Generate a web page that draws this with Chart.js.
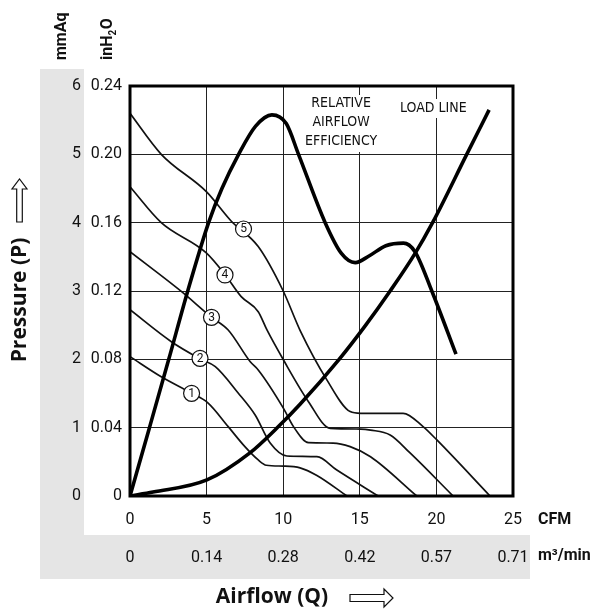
<!DOCTYPE html>
<html>
<head>
<meta charset="utf-8">
<script src="https://cdn.jsdelivr.net/npm/chart.js@4.4.1/dist/chart.umd.min.js"></script>
<style>
  html, body { margin: 0; padding: 0; background: #fff; }
  #wrap { width: 603px; height: 613px; }
</style>
</head>
<body>
<div id="wrap"><canvas id="fan" width="603" height="613"></canvas></div>
<script>
// ─── Data (CFM, inH2O) ───
const cfmTicks = [0, 5, 10, 15, 20, 25];
const m3Labels = ['0', '0.14', '0.28', '0.42', '0.57', '0.71'];
const mmAqLabels = ['0', '1', '2', '3', '4', '5', '6'];

const curve1 = [[0,0.0816],[2.04,0.0698],[4.0,0.0603],[5.1,0.0544],[6.41,0.0406],[7.5,0.0289],[8.37,0.0211],[8.9,0.018],[10.0,0.0175],[11.1,0.0165],[12.2,0.012],[14.16,0]];
const curve2 = [[0,0.109],[2.7,0.0903],[4.59,0.0802],[5.57,0.0757],[7.06,0.0603],[8.17,0.0474],[9.15,0.031],[10.24,0.0234],[12.2,0.023],[13.5,0.0152],[16.2,0]];
const curve3 = [[0,0.143],[3.37,0.1196],[5.3,0.1048],[6.41,0.0972],[7.85,0.0786],[8.37,0.0738],[10.02,0.0513],[10.67,0.0406],[11.65,0.0312],[13.26,0.031],[14.37,0.0289],[15.7,0.023],[18.72,0]];
const curve4 = [[0,0.181],[2.04,0.16],[4.98,0.1423],[6.22,0.1294],[7.26,0.1167],[8.37,0.1079],[8.94,0.0972],[10.02,0.0796],[11.65,0.0552],[13.07,0.0396],[15.06,0.0392],[15.7,0.0386],[16.98,0.0357],[18.28,0.0252],[21.09,0]];
const curve5 = [[0,0.224],[2.04,0.2],[5.0,0.178],[6.6,0.161],[8.37,0.146],[10.0,0.12],[11.1,0.097],[12.85,0.068],[14.37,0.0494],[15.06,0.0484],[17.83,0.0484],[19.13,0.0406],[20.03,0.0328],[23.5,0]];
const efficiency = [[0,0],[1.27,0.04],[2.53,0.08],[3.77,0.12],[5.13,0.16],[6.0,0.18],[7.09,0.2],[8.2,0.2165],[9.26,0.2231],[10.2,0.218],[11.0,0.2],[12.74,0.16],[13.8,0.142],[14.7,0.1366],[15.6,0.1405],[16.7,0.1465],[17.85,0.148],[18.6,0.143],[19.7,0.12],[21.28,0.083]];
const loadLine = [[0,0],[1.5,0.0023],[5.02,0.0094],[7.85,0.0254],[9.59,0.0398],[11.1,0.0537],[13.65,0.08],[15.35,0.0996],[16.98,0.12],[18.6,0.1419],[19.75,0.16],[21.98,0.2],[23.44,0.226]];
const markerPts = [[4.02,0.0601],[4.57,0.0806],[5.32,0.1046],[6.2,0.1294],[7.41,0.1563]];
const markerLabels = ['1', '2', '3', '4', '5'];

// ─── Helpers ───
const pts = arr => arr.map(([x, y]) => ({ x, y }));
const thin = (data) => ({ data: pts(data), borderColor: '#111', borderWidth: 1.7, pointRadius: 0,
    tension: 0.4, cubicInterpolationMode: 'monotone', order: 2 });
const thick = (data) => ({ data: pts(data), borderColor: '#000', borderWidth: 3.6, pointRadius: 0,
    tension: 0.4, cubicInterpolationMode: 'monotone', order: 1 });

const TICK_FONT = { family: 'Roboto', size: 16 };

function hollowArrow(ctx, len, sh, headLen, hh) {
    ctx.beginPath();
    ctx.moveTo(0, -sh);
    ctx.lineTo(len - headLen, -sh);
    ctx.lineTo(len - headLen, -hh);
    ctx.lineTo(len, 0);
    ctx.lineTo(len - headLen, hh);
    ctx.lineTo(len - headLen, sh);
    ctx.lineTo(0, sh);
    ctx.closePath();
    ctx.fillStyle = '#fff';
    ctx.fill();
    ctx.lineWidth = 1.2;
    ctx.strokeStyle = '#111';
    ctx.stroke();
}

// ─── Decoration plugin ───
const decor = {
    id: 'decor',
    beforeDraw(chart) {
        const { ctx, chartArea: a, scales: { x2, y2 } } = chart;
        ctx.save();
        ctx.fillStyle = '#e5e5e5';
        ctx.fillRect(y2.left, a.top - 17, y2.width, x2.bottom - (a.top - 17));
        ctx.fillRect(y2.left, x2.top, a.right + 17 - y2.left, x2.height);
        ctx.restore();
    },
    beforeDatasetsDraw(chart) {
        const { ctx, scales: { x, y } } = chart;
        ctx.save();
        ctx.font = "14px 'Liberation Sans Narrow', 'DejaVu Sans Condensed', sans-serif";
        ctx.textAlign = 'center';
        ctx.textBaseline = 'middle';
        // relative airflow efficiency note
        let cx = x.getPixelForValue(13.78), cy = y.getPixelForValue(0.24);
        ctx.fillStyle = '#fff';
        ctx.fillRect(cx - 35, cy + 9, 70, 57);
        ctx.fillStyle = '#111';
        ['RELATIVE', 'AIRFLOW', 'EFFICIENCY'].forEach((t, i) => ctx.fillText(t, cx, cy + 17 + i * 19));
        // load line note
        cx = x.getPixelForValue(19.8);
        ctx.fillStyle = '#fff';
        ctx.fillRect(cx - 30, cy + 13, 60, 19);
        ctx.fillStyle = '#111';
        ctx.fillText('LOAD LINE', cx, cy + 22);
        ctx.restore();
    },
    afterDatasetsDraw(chart) {
        const { ctx, chartArea: a } = chart;
        ctx.save();
        ctx.lineWidth = 3;
        ctx.strokeStyle = '#000';
        ctx.strokeRect(a.left, a.top, a.right - a.left, a.bottom - a.top);
        // marker digits
        const meta = chart.getDatasetMeta(0);
        ctx.font = '12px Roboto';
        ctx.fillStyle = '#111';
        ctx.textAlign = 'center';
        ctx.textBaseline = 'middle';
        meta.data.forEach((el, i) => ctx.fillText(markerLabels[i], el.x, el.y + 0.5));
        ctx.restore();
    },
    afterDraw(chart) {
        const { ctx, chartArea: a, scales: { x, x2, y, y2 } } = chart;
        ctx.save();
        ctx.fillStyle = '#111';
        // unit labels
        ctx.font = 'bold 16px Roboto';
        ctx.textAlign = 'left';
        ctx.textBaseline = 'middle';
        ctx.fillText('CFM', a.right + 25, x.top + 24);
        ctx.font = 'bold 16px Roboto';
        ctx.fillText('m\u00b3/min', a.right + 25, x2.top + 21);
        // rotated headers
        ctx.font = 'bold 16px Roboto';
        ctx.save();
        ctx.translate((y2.left + y2.right) / 2, a.top - 26);
        ctx.rotate(-Math.PI / 2);
        ctx.fillText('mmAq', 0, 0);
        ctx.restore();
        ctx.save();
        ctx.translate(y.left + 24, a.top - 26);
        ctx.rotate(-Math.PI / 2);
        ctx.fillText('inH', 0, 0);
        let w = ctx.measureText('inH').width;
        ctx.font = 'bold 10px Roboto';
        ctx.fillText('2', w, 5);
        w += ctx.measureText('2').width + 0.5;
        ctx.font = 'bold 16px Roboto';
        ctx.fillText('O', w, 0);
        ctx.restore();
        // axis titles
        ctx.font = "bold 21px 'Open Sans'";
        ctx.textAlign = 'center';
        ctx.fillText('Airflow (Q)', 272, 597);
        ctx.save();
        ctx.translate(20, 300);
        ctx.rotate(-Math.PI / 2);
        ctx.fillText('Pressure (P)', 0, 0);
        ctx.restore();
        // arrows
        ctx.save();
        ctx.translate(350, 598);
        hollowArrow(ctx, 43, 3.5, 9, 9);
        ctx.restore();
        ctx.save();
        ctx.translate(19.5, 222);
        ctx.rotate(-Math.PI / 2);
        hollowArrow(ctx, 43, 2.8, 10, 7.5);
        ctx.restore();
        ctx.restore();
    }
};

Chart.defaults.font.family = 'Roboto';
Chart.defaults.color = '#111';

new Chart(document.getElementById('fan'), {
    type: 'line',
    data: {
        datasets: [
            { data: pts(markerPts), showLine: false, pointRadius: 8, pointBackgroundColor: '#fff',
              pointBorderColor: '#111', pointBorderWidth: 1.2, order: 0 },
            thin(curve1), thin(curve2), thin(curve3), thin(curve4), thin(curve5),
            thick(efficiency), thick(loadLine)
        ]
    },
    options: {
        responsive: false,
        animation: false,
        events: [],
        layout: { padding: { left: 40, top: 86, right: 90, bottom: 34 } },
        plugins: { legend: { display: false }, tooltip: { enabled: false } },
        scales: {
            x: {
                type: 'linear', position: 'bottom', min: 0, max: 25, weight: 0,
                afterBuildTicks: s => { s.ticks = cfmTicks.map(v => ({ value: v })); },
                afterFit: s => { s.height = 39; },
                grid: { color: '#222', lineWidth: 1, drawTicks: false },
                border: { display: false },
                ticks: { font: TICK_FONT, padding: 14, maxRotation: 0 }
            },
            x2: {
                type: 'linear', position: 'bottom', min: 0, max: 25, weight: 1,
                afterBuildTicks: s => { s.ticks = cfmTicks.map(v => ({ value: v })); },
                afterFit: s => { s.height = 44; },
                grid: { display: false, drawTicks: false },
                border: { display: false },
                ticks: { font: TICK_FONT, padding: 13, maxRotation: 0, callback: (v, i) => m3Labels[i] }
            },
            y: {
                type: 'linear', position: 'left', min: 0, max: 0.24, weight: 0,
                ticks: { stepSize: 0.04, font: TICK_FONT, padding: 8,
                         callback: v => v === 0 ? '0' : v.toFixed(2) },
                afterFit: s => { s.width = 46; },
                grid: { color: '#222', lineWidth: 1, drawTicks: false },
                border: { display: false }
            },
            y2: {
                type: 'linear', position: 'left', min: 0, max: 0.24, weight: 1,
                ticks: { stepSize: 0.04, font: TICK_FONT, crossAlign: 'center',
                         callback: (v, i) => mmAqLabels[i] },
                afterFit: s => { s.width = 44; },
                grid: { display: false, drawTicks: false },
                border: { display: false }
            }
        }
    },
    plugins: [decor]
});
</script>
</body>
</html>
